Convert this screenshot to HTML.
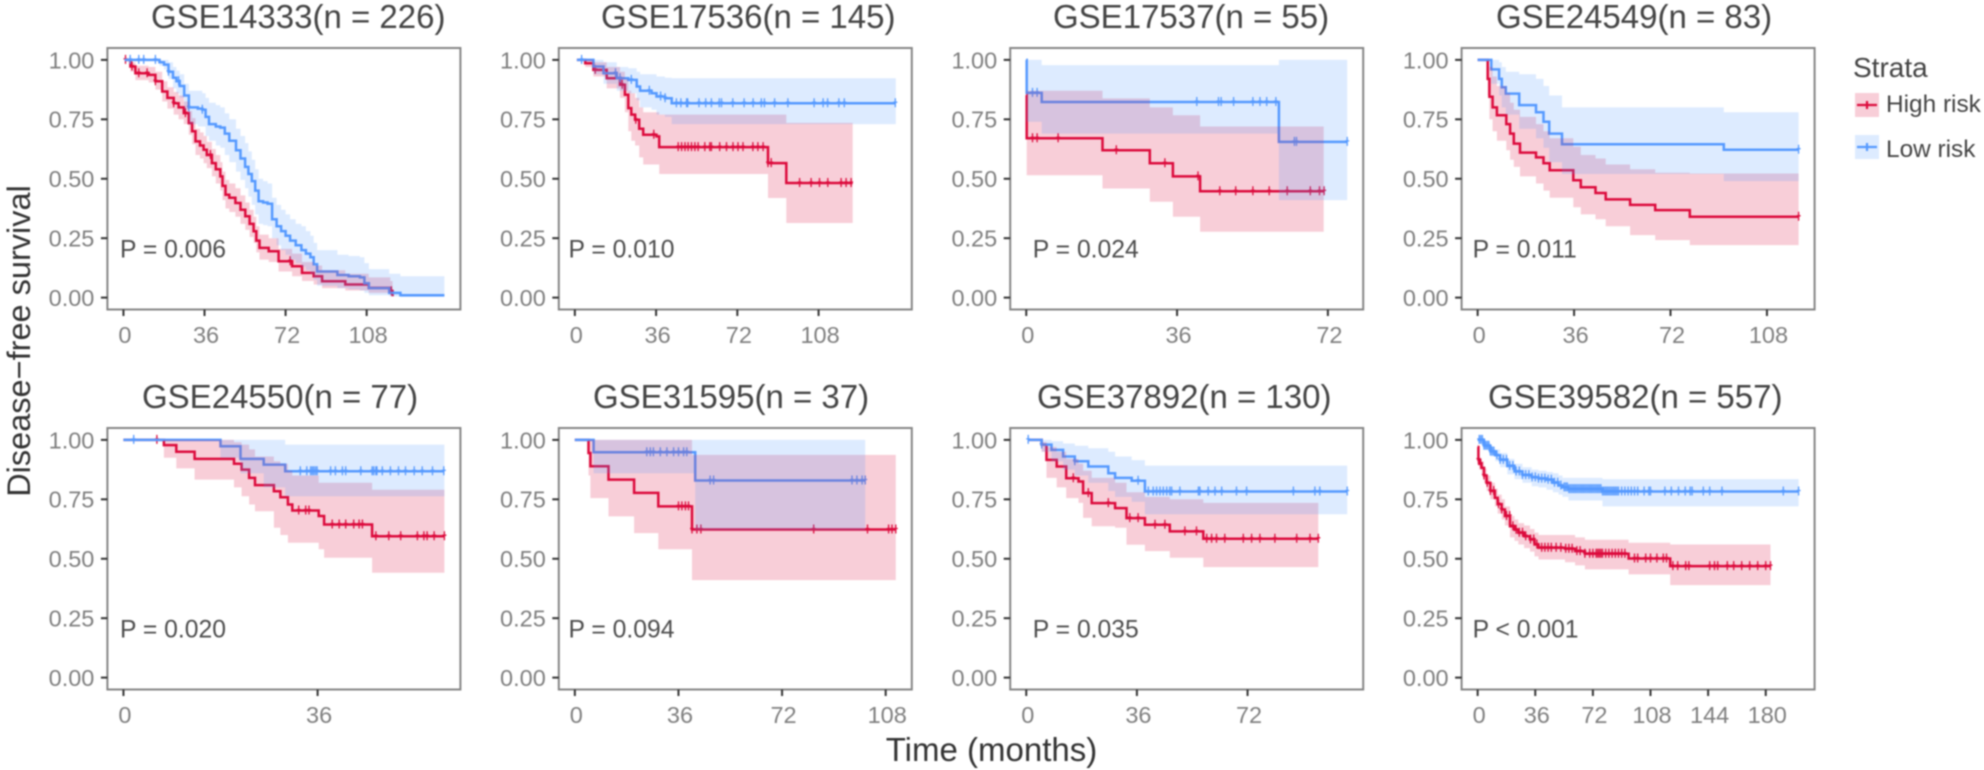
<!DOCTYPE html>
<html lang="en">
<head>
<meta charset="utf-8">
<title>Disease-free survival by risk strata</title>
<style>
html,body{margin:0;padding:0;background:#fff;width:1984px;height:770px;overflow:hidden}
svg{display:block;filter:blur(.7px)}
text{font-family:"Liberation Sans",sans-serif}
</style>
</head>
<body>
<svg id="chart" xmlns="http://www.w3.org/2000/svg" width="1984" height="770" viewBox="0 0 1984 770">
  <rect width="1984" height="770" fill="#fff"/>
  <text transform="translate(30,341) rotate(-90)" text-anchor="middle" font-size="32.5" fill="#333">Disease−free survival</text>
  <text x="991.5" y="761" text-anchor="middle" font-size="33" fill="#333">Time (months)</text>
  <g>
    <text x="1853" y="77" font-size="28" fill="#444">Strata</text>
    <rect x="1855" y="93" width="24" height="24" fill="#DC0A3C" fill-opacity=".2"/>
    <path d="M1857 105H1877M1867 101V109" stroke="#DC0A3C" stroke-width="2.2" fill="none"/>
    <text x="1886" y="112" font-size="24.4" fill="#444">High risk</text>
    <rect x="1855" y="135" width="24" height="24" fill="#5599FF" fill-opacity=".2"/>
    <path d="M1857 147H1877M1867 143V151" stroke="#5599FF" stroke-width="2.2" fill="none"/>
    <text x="1886" y="157" font-size="24.4" fill="#444">Low risk</text>
  </g>
</svg>
<script>
const yTickValues=[0,0.25,0.5,0.75,1];
const yTickLabels=['0.00','0.25','0.50','0.75','1.00'];

/* GSE14333 */
const gse14333HighTime=[.9,3.1,5.3,11.2,14.2,17.2,19.5,22.3,24.5,26.8,29,30.5,32,34,35.6,37,39.3,41,43,44,45.3,47,49.7,52,54.1,56,57.8,59,60.4,64.5,68.9,74.9,79.3,84.5,88.2,98.5,108.9,118.5,119.5];
const gse14333HighSurv=[1,.972,.944,.937,.91,.867,.84,.818,.80,.776,.734,.70,.657,.64,.622,.60,.566,.54,.51,.47,.433,.42,.398,.37,.342,.31,.279,.24,.209,.195,.153,.132,.104,.09,.069,.055,.041,.027,.006];
const gse14333HighUpper=[1,.99,.975,.97,.95,.91,.885,.865,.85,.825,.785,.755,.71,.695,.68,.655,.625,.60,.57,.53,.495,.48,.46,.43,.40,.37,.34,.30,.265,.25,.205,.185,.15,.135,.115,.10,.085,.07,.05];
const gse14333HighLower=[1,.95,.915,.905,.875,.825,.795,.77,.75,.73,.685,.645,.60,.585,.565,.545,.51,.48,.45,.41,.375,.36,.34,.31,.285,.255,.23,.19,.16,.15,.11,.09,.07,.055,.04,.03,.02,.01,.001];
const gse14333HighCensor=[.9,3.8,6.8,10.5,14.2,22.3,27.5,38.6,74,119];
const gse14333LowTime=[.5,14,16,18,20,22,23.5,25,27,29,33,35,36.5,38,41,43,45,47,50,52,54,55.5,57,58.5,60,62,64,66,68,70,72,74,76.5,79,81,83,84.5,86,95,100,105,107,109,118,123,142.5];
const gse14333LowSurv=[1,1,.99,.98,.95,.925,.91,.89,.85,.80,.795,.79,.76,.73,.72,.715,.69,.66,.62,.585,.55,.52,.49,.45,.405,.40,.395,.33,.30,.28,.26,.24,.22,.20,.185,.17,.14,.11,.095,.09,.085,.06,.04,.02,.01,.01];
const gse14333LowUpper=[1,1,1,1,.99,.97,.955,.94,.90,.87,.87,.86,.84,.82,.81,.80,.775,.75,.71,.68,.65,.615,.58,.54,.50,.49,.48,.42,.39,.37,.35,.33,.31,.30,.28,.26,.23,.20,.18,.175,.17,.145,.12,.10,.09,.09];
const gse14333LowLower=[1,1,.975,.96,.92,.88,.86,.84,.79,.73,.72,.72,.68,.66,.64,.63,.60,.57,.53,.495,.46,.425,.39,.35,.31,.305,.30,.25,.22,.20,.18,.16,.145,.13,.115,.10,.075,.05,.04,.035,.03,.02,.01,.005,.002,.002];
const gse14333LowCensor=[3,6.8,9,14.2,20,24.5,29,35];
const gse14333Ticks=[0,36,72,108];

/* GSE17536 */
const gse17536HighTime=[.9,4.6,8.2,14.1,20,22.2,23.7,25,26.7,28.5,30.3,36.2,37.4,85.6,93.7,123.1];
const gse17536HighSurv=[1,.986,.958,.923,.895,.853,.797,.77,.748,.71,.685,.678,.633,.566,.482,.482];
const gse17536HighUpper=[1,1,.99,.97,.95,.92,.87,.86,.84,.80,.78,.78,.77,.77,.735,.735];
const gse17536HighLower=[1,.97,.93,.88,.84,.78,.70,.66,.64,.59,.56,.56,.52,.419,.314,.314];
const gse17536HighCensor=[9,21,27,35,45.8,47.3,48.8,50.2,51.7,53.2,54.6,57.6,59.8,60.5,64.2,67.2,70.1,72.3,74.5,78.9,81.1,83.4,85.6,87,99.6,104.7,108.4,112.1,118,120.2,122.4];
const gse17536LowTime=[.9,4.6,8.2,12.7,18.6,23.7,27.4,28.9,34,36.2,39.9,42.9,142.2];
const gse17536LowSurv=[1,1,.972,.944,.923,.916,.888,.87,.86,.846,.839,.818,.818];
const gse17536LowUpper=[1,1,1,.99,.97,.965,.95,.94,.94,.93,.925,.923,.923];
const gse17536LowLower=[1,1,.94,.90,.87,.86,.83,.80,.79,.77,.76,.73,.73];
const gse17536LowCensor=[3,18,20,25,33,38,40,45,47,49.5,50,55,58,60.5,64,65,70,75,79,82.6,84,88.5,94.4,106,110,112,117,119.4,142];
const gse17536Ticks=[0,36,72,108];

/* GSE17537 */
const gse17537HighTime=[0,.1,18.2,29.5,35,41.5,71];
const gse17537HighSurv=[.852,.67,.62,.565,.51,.447,.447];
const gse17537HighUpper=[.87,.87,.838,.80,.767,.72,.72];
const gse17537HighLower=[.852,.515,.459,.403,.34,.277,.277];
const gse17537HighCensor=[1.5,2.6,7.6,21.5,33.1,41,46.2,50,54.1,58,62.3,67.8,70,71.1];
const gse17537LowTime=[0,.1,3.7,60.3,76.6];
const gse17537LowSurv=[1,.861,.823,.655,.655];
const gse17537LowUpper=[1,1,.978,1,1];
const gse17537LowLower=[1,.74,.69,.41,.41];
const gse17537LowCensor=[1.5,2.6,40.7,45.9,46.5,49.5,54.1,55.8,57.4,59.6,64,64.5,76.6];
const gse17537Ticks=[0,36,72];

/* GSE24549 */
const gse24549HighTime=[0,3.75,4.4,5.6,7.2,10.7,12.1,13.5,15.8,21.8,24.6,26.9,35.7,38.5,44,47.8,56.9,66.3,79.2,119.8];
const gse24549HighSurv=[1,.92,.845,.80,.767,.73,.69,.648,.61,.59,.565,.536,.494,.464,.44,.413,.39,.368,.34,.34];
const gse24549HighUpper=[1,1,.97,.93,.89,.86,.82,.79,.76,.73,.70,.67,.635,.60,.585,.56,.54,.525,.522,.522];
const gse24549HighLower=[1,.85,.75,.70,.66,.62,.58,.55,.51,.48,.45,.42,.38,.35,.33,.30,.263,.242,.221,.221];
const gse24549HighCensor=[119.8];
const gse24549LowTime=[0,5.1,8,9,10.5,15.5,21.8,24.6,26.7,31.5,91.9,119.8];
const gse24549LowSurv=[1,.96,.92,.885,.858,.81,.78,.74,.69,.645,.622,.622];
const gse24549LowUpper=[1,1,.99,.97,.95,.94,.92,.89,.85,.80,.78,.78];
const gse24549LowLower=[1,.90,.85,.80,.77,.71,.67,.63,.57,.52,.49,.49];
const gse24549LowCensor=[119.8];
const gse24549Ticks=[0,36,72,108];

/* GSE24550 */
const gse24550HighTime=[0,7.5,9.8,13.2,20.5,21.9,23.3,24.4,27.9,29.1,30.5,31.3,36.2,37.2,46.1,59.5];
const gse24550HighSurv=[1,.978,.95,.92,.90,.875,.84,.81,.784,.759,.728,.703,.68,.644,.595,.595];
const gse24550HighUpper=[1,1,1,1,.99,.98,.96,.93,.91,.90,.87,.85,.82,.82,.79,.79];
const gse24550HighLower=[1,.925,.88,.833,.80,.763,.728,.70,.63,.60,.567,.567,.54,.504,.441,.441];
const gse24550HighCensor=[6.2,32.5,33.8,34.4,38.7,40,41.2,42.7,43.7,44.3,46.8,49.2,51.4,54.5,55.7,56.3,57.6,59.5];
const gse24550LowTime=[0,18,21.7,26,30,59.5];
const gse24550LowSurv=[1,.973,.92,.896,.868,.868];
const gse24550LowUpper=[1,1,1,1,.98,.98];
const gse24550LowLower=[1,.925,.86,.80,.763,.763];
const gse24550LowCensor=[1.9,32.8,34,34.7,35,35.3,35.6,35.9,38.4,39.3,40.6,41.2,44,46.1,46.4,46.8,47,48,49.5,51,52.3,53.9,55.4,57.3,59.4];
const gse24550Ticks=[0,36];

/* GSE31595 */
const gse31595HighTime=[0,4.75,5.4,11.7,20.6,29,40.7,111.5];
const gse31595HighSurv=[1,.945,.889,.833,.777,.72,.623,.623];
const gse31595HighUpper=[1,1,1,1,1,1,.937,.937];
const gse31595HighLower=[1,.85,.755,.678,.608,.54,.41,.41];
const gse31595HighCensor=[36,37.2,38.4,39.5,40.7,42.4,43.8,83,101.7,109,110.2,111.5];
const gse31595LowTime=[0,6.5,41.8,100.9];
const gse31595LowSurv=[1,.948,.829,.829];
const gse31595LowUpper=[1,1,1,1];
const gse31595LowLower=[1,.86,.62,.62];
const gse31595LowCensor=[25,26.2,27.3,29.7,32,34.3,36,37.8,38.9,47,48.2,96.3,98,99.8,100.9];
const gse31595Ticks=[0,36,72,108];

/* GSE37892 */
const gse37892HighTime=[.65,5,6.6,9.9,13,17,18.5,21.3,28.9,32.6,38.6,46.7,57.6,95];
const gse37892HighSurv=[1,.98,.916,.888,.839,.825,.776,.734,.713,.671,.643,.615,.584,.584];
const gse37892HighUpper=[1,.99,.97,.95,.92,.90,.87,.84,.82,.78,.76,.75,.735,.735];
const gse37892HighLower=[1,.95,.84,.80,.755,.735,.672,.637,.63,.559,.532,.504,.465,.465];
const gse37892HighCensor=[15.3,20.2,26.7,33.7,36.4,41.9,45.1,51.6,55.4,58.7,60.3,61.9,64.6,70.6,73.3,76,80.9,88,92.3,95];
const gse37892LowTime=[.65,5,8.2,12,15.8,20.2,26.7,28.9,34.3,38.6,104.4];
const gse37892LowSurv=[1,.98,.958,.93,.91,.888,.86,.84,.828,.783,.783];
const gse37892LowUpper=[1,1,.995,.985,.975,.965,.95,.93,.915,.892,.892];
const gse37892LowLower=[1,.95,.91,.875,.85,.82,.785,.76,.74,.687,.687];
const gse37892LowCensor=[.65,5,15.8,36.4,39.7,41.3,42.4,43.5,44.6,45.7,46.7,47.3,50,56,56.5,59.2,61.4,63.6,68.4,71.7,86.9,93.9,95.5,104.4];
const gse37892Ticks=[0,36,72];

/* GSE39582 */
const gse39582HighTime=[0,.5,1,2.5,4,5.6,8,10.8,12.5,15,17,20.2,23,25.4,29,32.7,35.5,38,54.6,60.9,67,94.3,120.3,183];
const gse39582HighSurv=[.97,.917,.90,.882,.85,.819,.785,.756,.73,.707,.68,.637,.622,.609,.595,.581,.56,.546,.542,.532,.521,.501,.469,.469];
const gse39582HighUpper=[.98,.94,.925,.91,.88,.85,.82,.795,.77,.75,.72,.68,.665,.65,.64,.625,.61,.60,.60,.59,.58,.567,.56,.56];
const gse39582HighLower=[.95,.89,.875,.85,.82,.785,.75,.72,.69,.665,.64,.59,.575,.56,.545,.53,.51,.497,.485,.472,.455,.434,.389,.389];
const gse39582HighCensor=[.5,2,4,6,8,10,13,15,18,20,22,24,26,28,30,33,35,37,40,42,44,46,49,52,55,57,59,62,64,67,70,72,74,75,76,77,78,80,82,84,86,88,90,92,98,100,105,108,112,116,118,122,125,130,132,145,148,150,156,160,165,170,175,180,183];
const gse39582LowTime=[0,4,8,11,14,18.5,23,28,33.8,38,43,47,50.5,53,56.7,78,200.5];
const gse39582LowSurv=[1,.975,.951,.935,.916,.89,.867,.852,.842,.837,.832,.82,.808,.80,.793,.783,.783];
const gse39582LowUpper=[1,.99,.97,.96,.945,.92,.90,.885,.875,.87,.865,.86,.85,.84,.84,.835,.835];
const gse39582LowLower=[1,.96,.93,.91,.885,.855,.835,.82,.805,.80,.79,.78,.77,.76,.745,.72,.72];
const gse39582LowCensor=[1,2,3,4,5,6,7,8,9,10,12,14,16,18,20,22,24,26,28,30,32,34,36,38,40,42,44,46,48,50,52,54,55,56,57,58,59,60,61,62,63,64,65,66,67,68,69,70,71,72,73,74,75,76,77,78,79,80,81,82,83,84,85,86,87,88,90,92,94,96,98,100,104,107,108,117,121,125.5,129.7,132.8,134,141,145,152.7,191,200.5];
const gse39582Ticks=[0,36,72,108,144,180];

const panelTitles=['GSE14333(n = 226)','GSE17536(n = 145)','GSE17537(n = 55)','GSE24549(n = 83)','GSE24550(n = 77)','GSE31595(n = 37)','GSE37892(n = 130)','GSE39582(n = 557)'];
const pValueLabels=['P = 0.006','P = 0.010','P = 0.024','P = 0.011','P = 0.020','P = 0.094','P = 0.035','P < 0.001'];
const xAxisMaxima=[142.5,142.2,76.6,119.8,59.5,111.5,104.4,200.5];

const panelSeries=[
 {ticks:gse14333Ticks,high:[gse14333HighTime,gse14333HighSurv,gse14333HighUpper,gse14333HighLower,gse14333HighCensor],low:[gse14333LowTime,gse14333LowSurv,gse14333LowUpper,gse14333LowLower,gse14333LowCensor]},
 {ticks:gse17536Ticks,high:[gse17536HighTime,gse17536HighSurv,gse17536HighUpper,gse17536HighLower,gse17536HighCensor],low:[gse17536LowTime,gse17536LowSurv,gse17536LowUpper,gse17536LowLower,gse17536LowCensor]},
 {ticks:gse17537Ticks,high:[gse17537HighTime,gse17537HighSurv,gse17537HighUpper,gse17537HighLower,gse17537HighCensor],low:[gse17537LowTime,gse17537LowSurv,gse17537LowUpper,gse17537LowLower,gse17537LowCensor]},
 {ticks:gse24549Ticks,high:[gse24549HighTime,gse24549HighSurv,gse24549HighUpper,gse24549HighLower,gse24549HighCensor],low:[gse24549LowTime,gse24549LowSurv,gse24549LowUpper,gse24549LowLower,gse24549LowCensor]},
 {ticks:gse24550Ticks,high:[gse24550HighTime,gse24550HighSurv,gse24550HighUpper,gse24550HighLower,gse24550HighCensor],low:[gse24550LowTime,gse24550LowSurv,gse24550LowUpper,gse24550LowLower,gse24550LowCensor]},
 {ticks:gse31595Ticks,high:[gse31595HighTime,gse31595HighSurv,gse31595HighUpper,gse31595HighLower,gse31595HighCensor],low:[gse31595LowTime,gse31595LowSurv,gse31595LowUpper,gse31595LowLower,gse31595LowCensor]},
 {ticks:gse37892Ticks,high:[gse37892HighTime,gse37892HighSurv,gse37892HighUpper,gse37892HighLower,gse37892HighCensor],low:[gse37892LowTime,gse37892LowSurv,gse37892LowUpper,gse37892LowLower,gse37892LowCensor]},
 {ticks:gse39582Ticks,high:[gse39582HighTime,gse39582HighSurv,gse39582HighUpper,gse39582HighLower,gse39582HighCensor],low:[gse39582LowTime,gse39582LowSurv,gse39582LowUpper,gse39582LowLower,gse39582LowCensor]}
];

const SVGNS='http://www.w3.org/2000/svg';
const svg=document.getElementById('chart');
const RED='#DC0A3C',BLUE='#5599FF';
const PANEL_W=353,PANEL_H=261.5;
const pLabelInset=[12.6,9.7,22.6,11,12.6,9.7,22.6,11];
const titleStartX=[151,601,1053,1496,142,593,1037,1488];

function make(tag,attrs,parent){
  const el=document.createElementNS(SVGNS,tag);
  for(const k in attrs){el.setAttribute(k,attrs[k]);}
  parent.appendChild(el);
  return el;
}
function stepValue(time,surv,t){
  let v=surv[0];
  for(let i=0;i<time.length;i++){if(time[i]<=t){v=surv[i];}}
  return v;
}
function stepPath(time,vals,xs,ys){
  let d='M'+xs(time[0]).toFixed(1)+' '+ys(vals[0]).toFixed(1);
  for(let i=1;i<time.length;i++){
    d+='H'+xs(time[i]).toFixed(1)+'V'+ys(vals[i]).toFixed(1);
  }
  return d;
}
function bandPath(time,up,lo,xs,ys){
  let d=stepPath(time,up,xs,ys);
  for(let i=time.length-2;i>=0;i--){
    d+='V'+ys(lo[i]).toFixed(1)+'H'+xs(time[i]).toFixed(1);
  }
  return d+'Z';
}

panelSeries.forEach(function(panel,i){
  const col=i%4,row=i<4?0:1;
  const left=107.4+451.4*col,top=48+380*row;
  const xMax=xAxisMaxima[i];
  const xs=function(t){return left+PANEL_W*(t+0.05*xMax)/(1.1*xMax);};
  const ys=function(v){return top+PANEL_H*(1.05-v)/1.1;};
  const slug=panelTitles[i].slice(0,8).toLowerCase();

  const g=make('g',{},svg);
  
  

  const title=make('text',{x:titleStartX[i],y:top-20,'font-size':33,fill:'#444'},g);
  
  
  title.textContent=panelTitles[i];

  [['high',RED],['low',BLUE]].forEach(function(pair){
    const d=panel[pair[0]];
    const line=make('path',{d:stepPath(d[0],d[1],xs,ys),fill:'none',stroke:pair[1],'stroke-width':2.5},g);
    
    
    let cd='';
    d[4].forEach(function(t){
      const cx=xs(t),cy=ys(stepValue(d[0],d[1],t));
      cd+='M'+cx.toFixed(1)+' '+(cy-5).toFixed(1)+'v9M'+(cx-2).toFixed(1)+' '+(cy-1).toFixed(1)+'h4';
    });
    const marks=make('path',{d:cd,fill:'none',stroke:pair[1],'stroke-width':1.3},g);
    
    
  });
  [['high',RED],['low',BLUE]].forEach(function(pair){
    const d=panel[pair[0]];
    const band=make('path',{d:bandPath(d[0],d[2],d[3],xs,ys),fill:pair[1],'fill-opacity':.2,stroke:'none'},g);
    
    
  });

  const border=make('rect',{x:left,y:top,width:PANEL_W,height:PANEL_H,fill:'none',stroke:'#858585','stroke-width':2},g);
  
  

  yTickValues.forEach(function(v,k){
    const y=ys(v);
    const tick=make('line',{x1:left-6.5,x2:left,y1:y,y2:y,stroke:'#333','stroke-width':2},g);
    
    
    const lab=make('text',{x:left-13,y:y+8.4,'text-anchor':'end','font-size':23.5,fill:'#7f7f7f'},g);
    
    
    lab.textContent=yTickLabels[k];
  });
  panel.ticks.forEach(function(t){
    const x=xs(t);
    const tick=make('line',{x1:x,x2:x,y1:top+PANEL_H,y2:top+PANEL_H+6.5,stroke:'#333','stroke-width':2},g);
    
    
    const lab=make('text',{x:x+1.5,y:top+PANEL_H+33.5,'text-anchor':'middle','font-size':23.5,fill:'#7f7f7f'},g);
    
    
    lab.textContent=String(t);
  });

  const pText=make('text',{x:left+pLabelInset[i],y:top+209.5,'font-size':24.7,fill:'#4d4d4d'},g);
  
  
  pText.textContent=pValueLabels[i];
});
</script>
</body>
</html>
